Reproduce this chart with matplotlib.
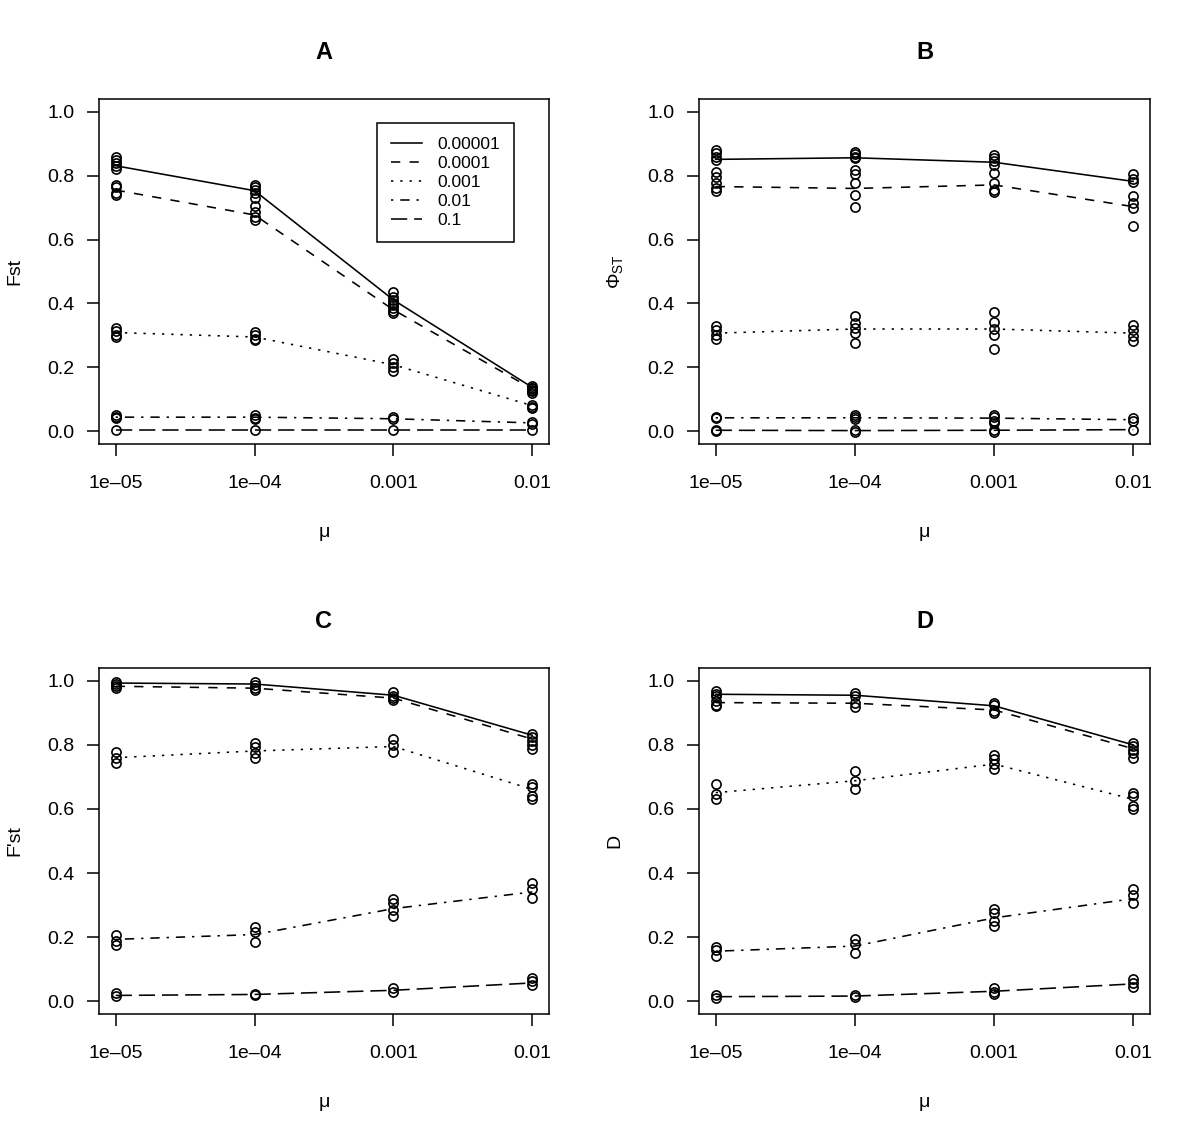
import matplotlib
matplotlib.use("Agg")
import matplotlib.pyplot as plt

plt.rcParams['font.family'] = ['Liberation Sans', 'DejaVu Sans']
plt.rcParams['mathtext.fontset'] = 'custom'
plt.rcParams['mathtext.rm'] = 'Liberation Sans'
plt.rcParams['mathtext.it'] = 'Liberation Sans:italic'
plt.rcParams['mathtext.bf'] = 'Liberation Sans:bold'

# ---------------- data ----------------
mu_ticks = ["1e\u201305", "1e\u201304", "0.001", "0.01"]
series_labels = ["0.00001", "0.0001", "0.001", "0.01", "0.1"]

# Panel A: Fst
A_mean = [
    [0.831, 0.753, 0.411, 0.137],
    [0.755, 0.677, 0.380, 0.132],
    [0.309, 0.295, 0.208, 0.080],
    [0.044, 0.044, 0.039, 0.026],
    [0.003, 0.003, 0.003, 0.003],
]
A_pts = [
    [[0.86, 0.85, 0.84, 0.83, 0.82], [0.77, 0.765, 0.755, 0.745], [0.435, 0.42, 0.41, 0.40], [0.14, 0.135, 0.125]],
    [[0.77, 0.765, 0.745, 0.74], [0.73, 0.705, 0.685, 0.672, 0.66], [0.395, 0.385, 0.375, 0.37], [0.135, 0.13, 0.12]],
    [[0.322, 0.315, 0.302, 0.295], [0.31, 0.30, 0.29, 0.285], [0.225, 0.215, 0.20, 0.19], [0.082, 0.075, 0.072]],
    [[0.05, 0.045, 0.04], [0.05, 0.042, 0.037], [0.045, 0.038], [0.03, 0.022]],
    [[0.003], [0.003], [0.003], [0.003]],
]

# Panel B: Phi_ST
B_mean = [
    [0.851, 0.856, 0.842, 0.782],
    [0.766, 0.760, 0.771, 0.703],
    [0.307, 0.320, 0.320, 0.307],
    [0.042, 0.042, 0.041, 0.036],
    [0.003, 0.002, 0.003, 0.005],
]
B_pts = [
    [[0.88, 0.87, 0.86, 0.85], [0.875, 0.868, 0.86, 0.855], [0.866, 0.855, 0.845, 0.833], [0.805, 0.79, 0.78]],
    [[0.812, 0.795, 0.778, 0.762, 0.752], [0.818, 0.805, 0.778, 0.74, 0.703], [0.808, 0.778, 0.756, 0.75], [0.736, 0.714, 0.698, 0.643]],
    [[0.328, 0.318, 0.302, 0.288], [0.36, 0.34, 0.323, 0.309, 0.276], [0.372, 0.341, 0.32, 0.30, 0.258], [0.333, 0.318, 0.297, 0.282]],
    [[0.045, 0.04], [0.05, 0.043, 0.037], [0.052, 0.043, 0.033, 0.025], [0.042, 0.032]],
    [[0.005, 0.002], [0.005, -0.002], [0.005, -0.002], [0.005]],
]

# Panel C: F'st
C_mean = [
    [0.993, 0.990, 0.955, 0.830],
    [0.983, 0.977, 0.946, 0.818],
    [0.760, 0.781, 0.795, 0.661],
    [0.193, 0.208, 0.289, 0.341],
    [0.018, 0.021, 0.034, 0.057],
]
C_pts = [
    [[0.997, 0.99], [0.995, 0.986], [0.964, 0.953], [0.835, 0.825]],
    [[0.985, 0.978], [0.978, 0.972], [0.945, 0.94], [0.812, 0.80, 0.788]],
    [[0.778, 0.76, 0.742], [0.807, 0.792, 0.774, 0.758], [0.818, 0.80, 0.778], [0.677, 0.67, 0.639, 0.632]],
    [[0.208, 0.188, 0.175], [0.232, 0.216, 0.185], [0.32, 0.307, 0.284, 0.265], [0.368, 0.349, 0.323]],
    [[0.026, 0.016], [0.022, 0.018], [0.042, 0.028], [0.072, 0.062, 0.049]],
]

# Panel D: D
D_mean = [
    [0.958, 0.955, 0.922, 0.800],
    [0.932, 0.930, 0.909, 0.788],
    [0.651, 0.688, 0.740, 0.630],
    [0.156, 0.172, 0.260, 0.320],
    [0.014, 0.016, 0.031, 0.054],
]
D_pts = [
    [[0.969, 0.96, 0.952], [0.962, 0.952], [0.932, 0.924], [0.807, 0.798]],
    [[0.938, 0.925, 0.92], [0.93, 0.918], [0.906, 0.899], [0.785, 0.775, 0.758]],
    [[0.677, 0.646, 0.632], [0.719, 0.688, 0.661], [0.768, 0.755, 0.74, 0.724], [0.649, 0.641, 0.609, 0.601]],
    [[0.17, 0.159, 0.141], [0.193, 0.177, 0.151], [0.289, 0.276, 0.25, 0.236], [0.349, 0.333, 0.305]],
    [[0.018, 0.01], [0.018, 0.014], [0.04, 0.03, 0.022], [0.068, 0.057, 0.045]],
]

panel_titles = ["A", "B", "C", "D"]
panel_ylabels = ["Fst", r"$\Phi_{\mathrm{ST}}$", "F'st", "D"]
y_ticks = [0.0, 0.2, 0.4, 0.6, 0.8, 1.0]

# ---------------- styling ----------------
u = 1.45  # R line-type unit in points
linestyles = [
    '-',
    (0, (4 * u, 4 * u)),
    (0, (1 * u, 3 * u)),
    (0, (1 * u, 3 * u, 4 * u, 3 * u)),
    (0, (7 * u, 3 * u)),
]

W, H = 1200, 1139
fig = plt.figure(figsize=(W / 100, H / 100), dpi=100)

boxes = [
    (99, 99, 549, 444),
    (699, 99, 1150, 444),
    (99, 668, 549, 1014),
    (699, 668, 1150, 1014),
]
means = [A_mean, B_mean, C_mean, D_mean]
pts = [A_pts, B_pts, C_pts, D_pts]
xs = [1, 2, 3, 4]

for k in range(4):
    l, t, r, b = boxes[k]
    ax = fig.add_axes([l / W, 1 - b / H, (r - l) / W, (b - t) / H])
    for s in range(5):
        for i, x in enumerate(xs):
            vals = pts[k][s][i]
            ax.plot([x] * len(vals), vals, linestyle='none', marker='o',
                    markersize=6.6, markerfacecolor='none',
                    markeredgecolor='black', markeredgewidth=1.2)
        ax.plot(xs, means[k][s], color='black', linewidth=1.15,
                linestyle=linestyles[s], label=series_labels[s])
    ax.set_xlim(0.88, 4.12)
    ax.set_ylim(-0.04, 1.04)
    ax.set_xticks(xs)
    ax.set_xticklabels(mu_ticks)
    ax.set_yticks(y_ticks)
    ax.set_yticklabels([f"{v:.1f}" for v in y_ticks])
    ax.tick_params(axis='both', direction='out', length=8.3, width=1.1,
                   labelsize=14, color='black')
    ax.tick_params(axis='x', pad=14)
    ax.tick_params(axis='y', pad=9.6)
    for sp in ax.spines.values():
        sp.set_linewidth(1.1)
        sp.set_color('black')
    ax.set_title(panel_titles[k], fontsize=17, fontweight='bold', pad=29)
    ax.set_ylabel(panel_ylabels[k], fontsize=14)
    ax.yaxis.label.set_verticalalignment('center')
    ax.yaxis.set_label_coords(-84.0 / (r - l), 0.5)
    ax.set_xlabel("\u03bc", fontsize=14)
    ax.xaxis.label.set_verticalalignment('baseline')
    ax.xaxis.set_label_coords(0.5, -93.0 / (b - t))
    if k == 0:
        leg = ax.legend(loc='upper right',
                        bbox_to_anchor=((514 - l) / (r - l), (b - 122.7) / (b - t)),
                        borderaxespad=0, fontsize=12.5, frameon=True,
                        fancybox=False, framealpha=1, edgecolor='black',
                        handlelength=1.75, handletextpad=0.9,
                        labelspacing=0.22, borderpad=0.8)
        leg.get_frame().set_linewidth(1.1)

fig.savefig("out.png", dpi=100)
